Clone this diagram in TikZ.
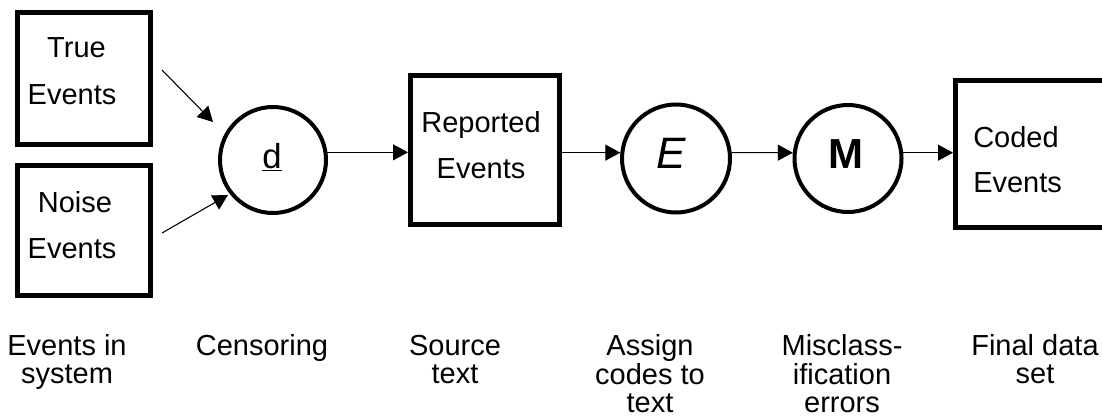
\documentclass[tikz,border=0pt]{standalone}
\usepackage{fontspec}
\setmainfont{Liberation Sans}
\usetikzlibrary{arrows.meta,calc}
\newcommand\lbl[1]{\begin{tabular}[t]{@{}c@{}}#1\end{tabular}}
\begin{document}
\begin{tikzpicture}[x=0.75pt,y=-0.75pt,
  box/.style={draw,line width=3.75pt,rectangle,inner sep=0pt},
  circ/.style={draw,line width=3pt,circle,inner sep=0pt},
  txt/.style={inner sep=0pt,font=\fontsize{21.75}{21.75}\selectfont},
  lab/.style={inner sep=0pt,font=\fontsize{21.75}{21.2}\selectfont},
  arr/.style={line width=0.8pt,-{Triangle[length=11.25pt,width=12pt]}},
]
\useasboundingbox (0,0) rectangle (1102,417);
% boxes and circles
\node[box,minimum width=99.75pt,minimum height=99pt] (T) at (84,78.5) {};
\node[box,minimum width=99.75pt,minimum height=97.5pt] (N) at (84,230.5) {};
\node[box,minimum width=111.75pt,minimum height=111.75pt] (R) at (485,150) {};
\node[box,minimum width=113.6pt,minimum height=110.25pt] (C) at (1031.25,154) {};
\node[circ,minimum size=79.5pt] (d) at (273,160) {};
\node[circ,minimum size=81pt] (E) at (676,158.5) {};
\node[circ,minimum size=80.25pt] (M) at (848,158.5) {};
% texts in boxes
\node[txt,anchor=base] (t1) at (76.5,58) {True};
\node[txt,anchor=base] (t2) at (72,105) {Events};
\node[txt,anchor=base] (n1) at (75,212) {Noise};
\node[txt,anchor=base] (n2) at (72,258) {Events};
\node[txt,anchor=base] (r1) at (481,133) {Reported};
\node[txt,anchor=base] (r2) at (481,178) {Events};
\node[txt,anchor=base west] (c1) at (973,147) {Coded};
\node[txt,anchor=base west] (c2) at (973,192) {Events};
% texts in circles
\node[txt,anchor=base,font=\fontsize{26}{26}\selectfont] (dl) at (272,168) {\underline{d}};
\node[txt,anchor=base,font=\fontsize{33}{33}\selectfont\itshape] (el) at (671,168) {E};
\node[txt,anchor=base,font=\fontsize{31.5}{31.5}\selectfont\bfseries] (ml) at (846,168) {M};
% bottom labels
\node[lab,anchor=base] (L1) at (67,355) {\lbl{Events in\\system}};
\node[lab,anchor=base] (L2) at (262,355) {\lbl{Censoring}};
\node[lab,anchor=base] (L3) at (455,355) {\lbl{Source\\text}};
\node[lab,anchor=base] (L4) at (650,355) {\lbl{Assign\\codes to\\text}};
\node[lab,anchor=base] (L5) at (842,355) {\lbl{Misclass-\\ification\\errors}};
\node[lab,anchor=base] (L6) at (1035,355) {\lbl{Final data\\set}};
% connectors
\coordinate (ta) at (162,70);
\coordinate (tb) at (213,122);
\coordinate (na) at (162,233);
\coordinate (nb) at (228,195);
\draw[arr] (ta) -- (tb);
\draw[arr] (na) -- (nb);
\draw[arr] (d.8) -- (d.8 -| R.west);
\draw[arr] (R.east |- E.174) -- (E.174);
\draw[arr] (E.6) -- (M.174);
\draw[arr] (M.6) -- (M.6 -| C.west);
\end{tikzpicture}
\end{document}
